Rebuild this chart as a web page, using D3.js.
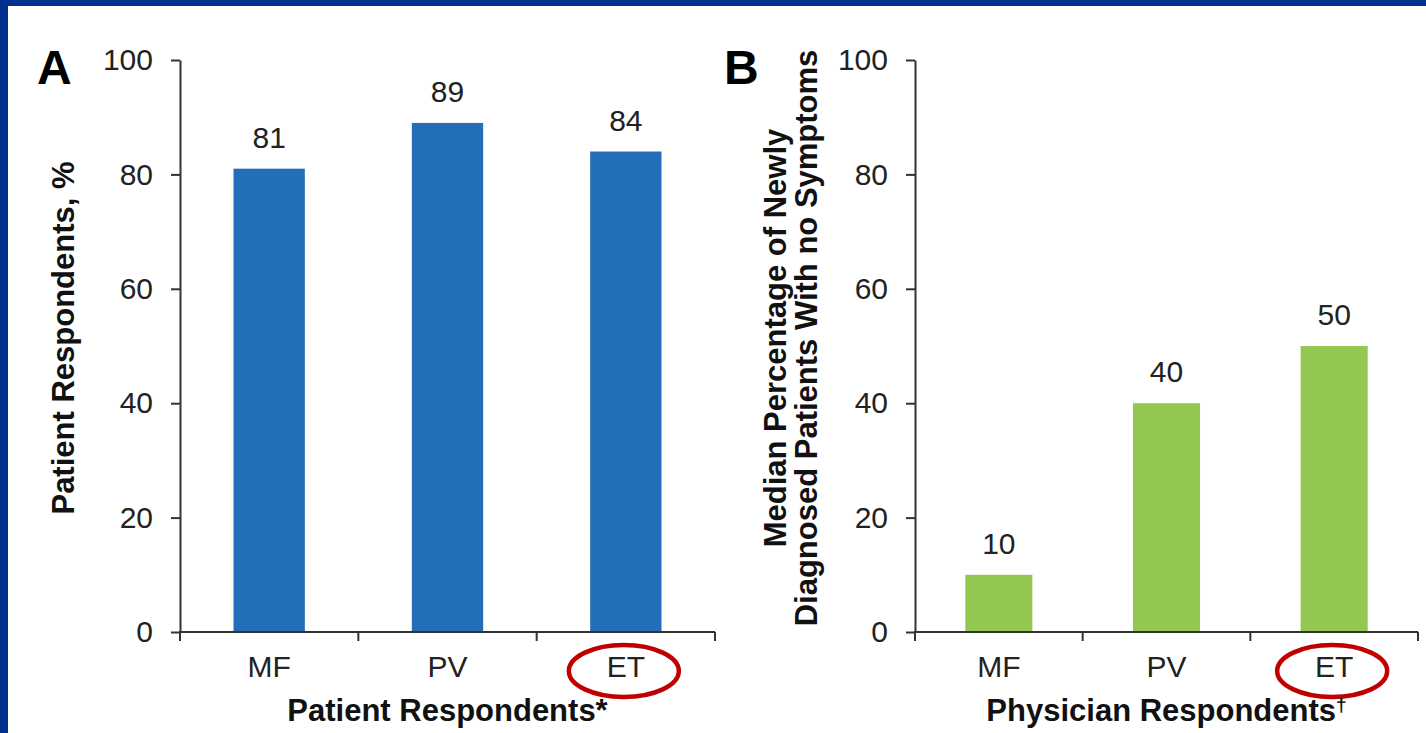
<!DOCTYPE html>
<html>
<head>
<meta charset="utf-8">
<script src="https://cdn.jsdelivr.net/npm/d3@7"></script>
<style>
  html, body { margin: 0; padding: 0; background: #fff; }
  svg { display: block; font-family: "Liberation Sans", Arial, sans-serif; }
</style>
</head>
<body>
<div id="chart"></div>
<script>
// data
const categories = ["MF", "PV", "ET"];
const patientValues = [81, 89, 84];
const physicianValues = [10, 40, 50];
const yTicks = [0, 20, 40, 60, 80, 100];
const highlighted = "ET";

const W = 1426, H = 733;
const svg = d3.select("#chart").append("svg")
  .attr("width", W).attr("height", H);

svg.append("rect").attr("width", W).attr("height", H).attr("fill", "#fff");
// blue frame (top + left)
svg.append("rect").attr("x", 0).attr("y", 0).attr("width", W).attr("height", 6).attr("fill", "#003090");
svg.append("rect").attr("x", 0).attr("y", 0).attr("width", 8).attr("height", H).attr("fill", "#003090");

const AXIS = "#333";
const TXT = "#222";
const FS = 30;    // regular text
const FSB = 31;   // bold titles

function drawPanel(opts) {
  const { letter, letterX, values, color, x0, x1, xTitle, yTitleLines, yTitleX } = opts;
  const y = d3.scaleLinear().domain([0, 100]).range([632, 60]);
  const x = d3.scaleBand().domain(categories).range([x0, x1])
    .paddingInner(0.6).paddingOuter(0.3);

  const g = svg.append("g");

  // bars
  g.selectAll(".bar").data(values).join("rect")
    .attr("x", (d, i) => x(categories[i]))
    .attr("width", x.bandwidth())
    .attr("y", d => y(d))
    .attr("height", d => y(0) - y(d))
    .attr("fill", color);

  // value labels
  g.selectAll(".val").data(values).join("text")
    .attr("x", (d, i) => x(categories[i]) + x.bandwidth() / 2)
    .attr("y", d => y(d) - 21)
    .attr("text-anchor", "middle")
    .attr("font-size", FS)
    .attr("fill", TXT)
    .text(d => d);

  // y axis
  const yAxis = d3.axisLeft(y).tickValues(yTicks).tickSize(9).tickSizeOuter(0).tickPadding(18);
  const ya = g.append("g").attr("transform", `translate(${x0},0)`).call(yAxis);
  ya.select(".domain").attr("stroke", AXIS).attr("stroke-width", 2);
  ya.selectAll(".tick line").attr("stroke", AXIS).attr("stroke-width", 2);
  ya.selectAll(".tick text").attr("font-size", FS).attr("fill", TXT)
    .attr("font-family", "Liberation Sans, Arial, sans-serif");

  // x axis: line with ticks at category boundaries
  const step = x.step();
  const bounds = d3.range(categories.length + 1).map(i => x0 + i * step);
  g.append("line").attr("x1", x0 - 1).attr("x2", x1).attr("y1", y(0)).attr("y2", y(0))
    .attr("stroke", AXIS).attr("stroke-width", 2);
  g.selectAll(".xt").data(bounds).join("line")
    .attr("x1", d => d).attr("x2", d => d)
    .attr("y1", y(0)).attr("y2", y(0) + 9)
    .attr("stroke", AXIS).attr("stroke-width", 2);

  // category labels
  g.selectAll(".cat").data(categories).join("text")
    .attr("x", d => x(d) + x.bandwidth() / 2)
    .attr("y", 677)
    .attr("text-anchor", "middle")
    .attr("font-size", FS)
    .attr("fill", TXT)
    .text(d => d);

  // red circle around highlighted category
  g.append("ellipse")
    .attr("cx", x(highlighted) + x.bandwidth() / 2 - 2)
    .attr("cy", 671)
    .attr("rx", 55).attr("ry", 26)
    .attr("fill", "none").attr("stroke", "#c00000").attr("stroke-width", 4.5);

  // x title
  const xt = g.append("text")
    .attr("x", (x0 + x1) / 2)
    .attr("y", 721)
    .attr("text-anchor", "middle")
    .attr("font-size", FSB).attr("font-weight", "bold").attr("fill", "#111")
    .text(xTitle.main);
  if (xTitle.sup) {
    xt.append("tspan").attr("font-size", 19).attr("dy", -10).text(xTitle.sup);
  }

  // y title
  const yt = g.append("text")
    .attr("transform", `translate(${yTitleX},${338}) rotate(-90)`)
    .attr("text-anchor", "middle")
    .attr("font-size", FSB).attr("font-weight", "bold").attr("fill", "#111");
  yTitleLines.forEach((t, i) => {
    yt.append("tspan").attr("x", 0).attr("y", i * 31).text(t);
  });

  // panel letter
  svg.append("text")
    .attr("x", letterX).attr("y", 84)
    .attr("font-size", 48).attr("font-weight", "bold").attr("fill", "#000")
    .text(letter);
}

drawPanel({
  letter: "A", letterX: 37,
  values: patientValues, color: "#236fb7",
  x0: 180, x1: 715,
  xTitle: { main: "Patient Respondents*" },
  yTitleLines: ["Patient Respondents, %"], yTitleX: 74
});

drawPanel({
  letter: "B", letterX: 724,
  values: physicianValues, color: "#92c852",
  x0: 915, x1: 1418,
  xTitle: { main: "Physician Respondents", sup: "†" },
  yTitleLines: ["Median Percentage of Newly", "Diagnosed Patients With no Symptoms"], yTitleX: 786
});
</script>
</body>
</html>
